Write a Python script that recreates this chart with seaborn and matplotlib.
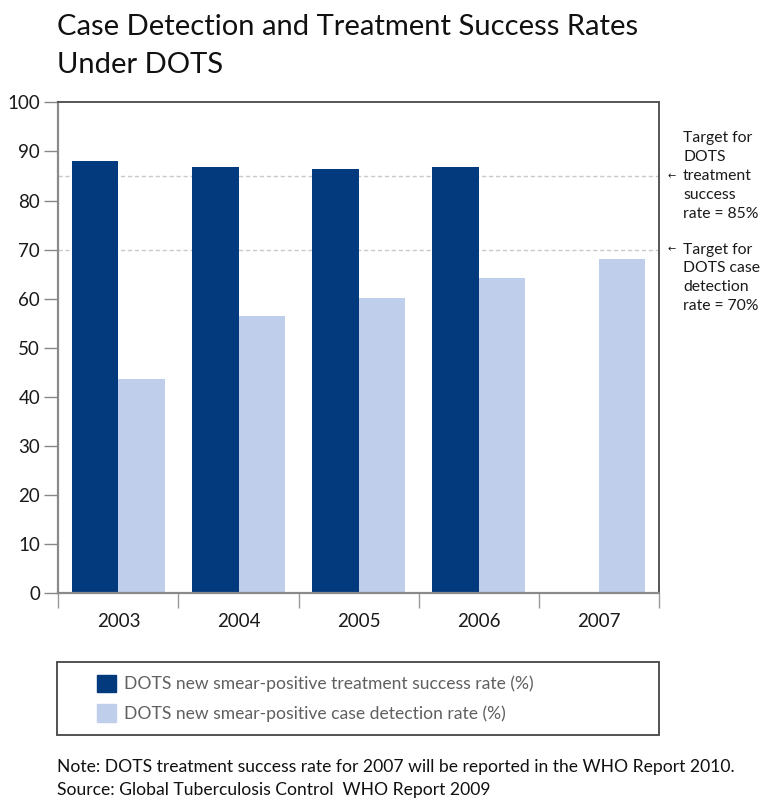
import numpy as np
import pandas as pd
import seaborn as sns
import matplotlib.pyplot as plt
import matplotlib.transforms as mtransforms
from matplotlib.patches import Rectangle, Patch

years = ["2003", "2004", "2005", "2006", "2007"]
treatment_success = [88.0, 86.8, 86.4, 86.8, np.nan]
case_detection = [43.6, 56.4, 60.1, 64.2, 68.1]
series_names = ["DOTS new smear-positive treatment success rate (%)",
                "DOTS new smear-positive case detection rate (%)"]
targets = [85, 70]

DARK = "#033a7e"
LIGHT = "#bfceeb"

df = pd.DataFrame({
    "year": years * 2,
    "value": treatment_success + case_detection,
    "series": [series_names[0]] * len(years) + [series_names[1]] * len(years),
})

sns.set_theme(style="white")
plt.rcParams["font.family"] = ["Lato", "DejaVu Sans"]

W, H = 778, 798
fig = plt.figure(figsize=(W / 100, H / 100), dpi=100)
ax = fig.add_axes([58.3 / W, 1 - 593.3 / H, (659 - 58.3) / W, (593.3 - 102.3) / H])

sns.barplot(data=df, x="year", y="value", hue="series", hue_order=series_names,
            palette=[DARK, LIGHT], width=0.775, saturation=1, ax=ax,
            edgecolor="none", zorder=2)
ax.get_legend().remove()

for t in targets:
    ax.axhline(t, color="#c9c9c9", lw=1, ls=(0, (3, 2)), zorder=0)

ax.set_ylim(0, 100)
ax.set_xlim(-0.5, 4.5)
ax.set_yticks(range(0, 101, 10))
ax.set_xlabel("")
ax.set_ylabel("")
ax.tick_params(axis="y", which="major", left=True, length=10, width=1,
               color="#888888", labelsize=13.5, labelcolor="#1a1a1a", pad=3)
ax.tick_params(axis="x", which="major", bottom=False, length=0,
               labelsize=13.5, labelcolor="#1a1a1a", pad=14)
ax.set_xticks(np.arange(-0.5, 5.0, 1.0), minor=True)
ax.tick_params(axis="x", which="minor", bottom=True, length=11, width=1,
               color="#999999")
for side in ["left", "bottom"]:
    ax.spines[side].set_color("#8a8a8a")
    ax.spines[side].set_linewidth(1.6)
for side in ["top", "right"]:
    ax.spines[side].set_color("#555555")
    ax.spines[side].set_linewidth(1.4)

# target annotations to the right of the plot
blend = mtransforms.blended_transform_factory(ax.transAxes, ax.transData)
blocks = [
    (85, ["Target for", "DOTS", "treatment", "success", "rate = 85%"], 2),
    (70, ["Target for", "DOTS case", "detection", "rate = 70%"], 0),
]
for yv, lines, arrow_line in blocks:
    for i, line in enumerate(lines):
        ax.annotate(line, xy=(1, yv), xycoords=blend,
                    xytext=(24, -(i - arrow_line) * 18.8), textcoords="offset pixels",
                    va="center", ha="left", fontsize=11.3, color="#1a1a1a",
                    annotation_clip=False)
    ax.annotate("\u2190", xy=(1, yv), xycoords=blend, xytext=(9, 0),
                textcoords="offset pixels", va="center", ha="left",
                fontsize=7, color="#1a1a1a", family="DejaVu Sans",
                annotation_clip=False)

fig.text(57 / W, 1 - 27 / H, "Case Detection and Treatment Success Rates",
         fontsize=21, color="#111111", va="center", ha="left")
fig.text(57 / W, 1 - 65 / H, "Under DOTS",
         fontsize=21, color="#111111", va="center", ha="left")

# legend box
fig.patches.append(Rectangle((57.3 / W, 1 - 735 / H), (659 - 57.3) / W, (735 - 662) / H,
                             transform=fig.transFigure, fill=False,
                             edgecolor="#444444", lw=1.3))
handles = [Patch(color=DARK), Patch(color=LIGHT)]
fig.legend(handles, series_names, loc="upper left",
           bbox_to_anchor=(88 / W, 1 - 666 / H), frameon=False,
           fontsize=12.6, labelcolor="#606060", handlelength=1.1,
           handleheight=1.15, handletextpad=0.45, labelspacing=0.68,
           borderpad=0)

fig.text(57 / W, 1 - 767 / H,
         "Note: DOTS treatment success rate for 2007 will be reported in the WHO Report 2010.",
         fontsize=12.6, color="#111111", va="center", ha="left")
fig.text(57 / W, 1 - 790 / H, "Source: Global Tuberculosis Control  WHO Report 2009",
         fontsize=12.6, color="#111111", va="center", ha="left")

fig.savefig("out.png", dpi=100)
